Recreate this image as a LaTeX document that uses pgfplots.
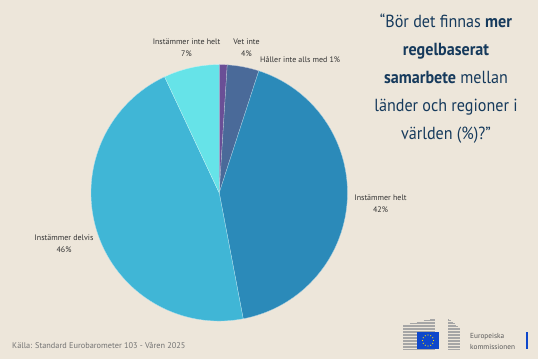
\documentclass[border=0pt]{standalone}
\usepackage{pgfplots}
\pgfplotsset{compat=1.18}
\usepackage{fontspec}
\setmainfont{PT Sans}
\newfontfamily\titlefont[FakeStretch=0.92]{PT Sans}
\definecolor{paper}{HTML}{EDE6DA}
\definecolor{navy}{HTML}{163A5C}
\definecolor{sA}{HTML}{6A4F96}
\definecolor{sB}{HTML}{4A6A99}
\definecolor{sC}{HTML}{2B8AB9}
\definecolor{sD}{HTML}{40B6D6}
\definecolor{sE}{HTML}{66E3E8}
\definecolor{eublue}{HTML}{0E47CB}
\definecolor{eustar}{HTML}{FFDD00}
\definecolor{labtxt}{HTML}{333333}
\begin{document}
\begin{tikzpicture}
\begin{axis}[
  hide axis, x=1pt, y=1pt, xmin=0, xmax=538, ymin=0, ymax=359,
  y dir=reverse, clip=false, anchor=south west, at={(0pt,0pt)},
]
\fill[paper] (axis cs:0,0) rectangle (axis cs:538,359);
% pie: value / cumulative start (percent) / colour
\foreach \v/\s/\col in {1/0/sA, 4/1/sB, 42/5/sC, 46/47/sD, 7/93/sE}{
  \edef\tmp{\noexpand\fill[\col, draw=white!60!\col, line width=0.3pt]
    (axis cs:219.2,192.8) -- ++({90-3.6*\s}:128.2pt)
    arc[start angle={90-3.6*\s}, delta angle={-3.6*\v}, radius=128.2pt] -- cycle;}
  \tmp
}
% labels
\begin{scope}[every node/.style={font=\fontsize{8}{12}\selectfont, text=labtxt, align=center, inner sep=0pt}]
\node at (axis cs:186.5,47.5) {Instämmer inte helt\\7\%};
\node at (axis cs:246.5,47.5) {Vet inte\\4\%};
\node[anchor=west] at (axis cs:260,60) {Håller inte alls med 1\%};
\node at (axis cs:380.5,203.5) {Instämmer helt\\42\%};
\node at (axis cs:64,244) {Instämmer delvis\\46\%};
\end{scope}
% title
\node[align=center, text=navy, inner sep=0pt, font=\titlefont\fontsize{17.5}{28}\selectfont] at (axis cs:446,79)
 {“Bör det finnas \textbf{mer}\\ \textbf{regelbaserat}\\ \textbf{samarbete} mellan\\ länder och regioner i\\ världen (\%)?”};
% source
\node[anchor=west, inner sep=0pt, text=black!55, font=\fontsize{8.3}{10}\selectfont] at (axis cs:12,345) {Källa: Standard Eurobarometer 103 - Våren 2025};
% logo
\foreach \yy in {319,320.5,...,350}{
  \edef\tmp{\noexpand\draw[black!35, line width=0.5pt] (axis cs:{max(403,435-32*(\yy-318)/7)},\yy) -- (axis cs:435,\yy);}
  \tmp
  \edef\tmp{\noexpand\draw[black!35, line width=0.5pt] (axis cs:448,\yy) -- (axis cs:{min(460,448+12*(\yy-318)/10)},\yy);}
  \tmp
}
\fill[eublue] (axis cs:417,332) rectangle (axis cs:439,349);
\foreach \a in {0,30,...,330}{
  \edef\tmp{\noexpand\fill[eustar] (axis cs:{428+5.5*cos(\a)},{340.5+5.5*sin(\a)}) circle[radius=0.6pt];}
  \tmp
}
\node[anchor=west, inner sep=0pt, text=black!65, font=\fontsize{7.3}{9}\selectfont] at (axis cs:470,337) {Europeiska};
\node[anchor=west, inner sep=0pt, text=black!65, font=\fontsize{7.3}{9}\selectfont] at (axis cs:470,347) {kommissionen};
\draw[eublue, line width=1.2pt] (axis cs:527,332) -- (axis cs:527,349);
\end{axis}
\end{tikzpicture}
\end{document}
